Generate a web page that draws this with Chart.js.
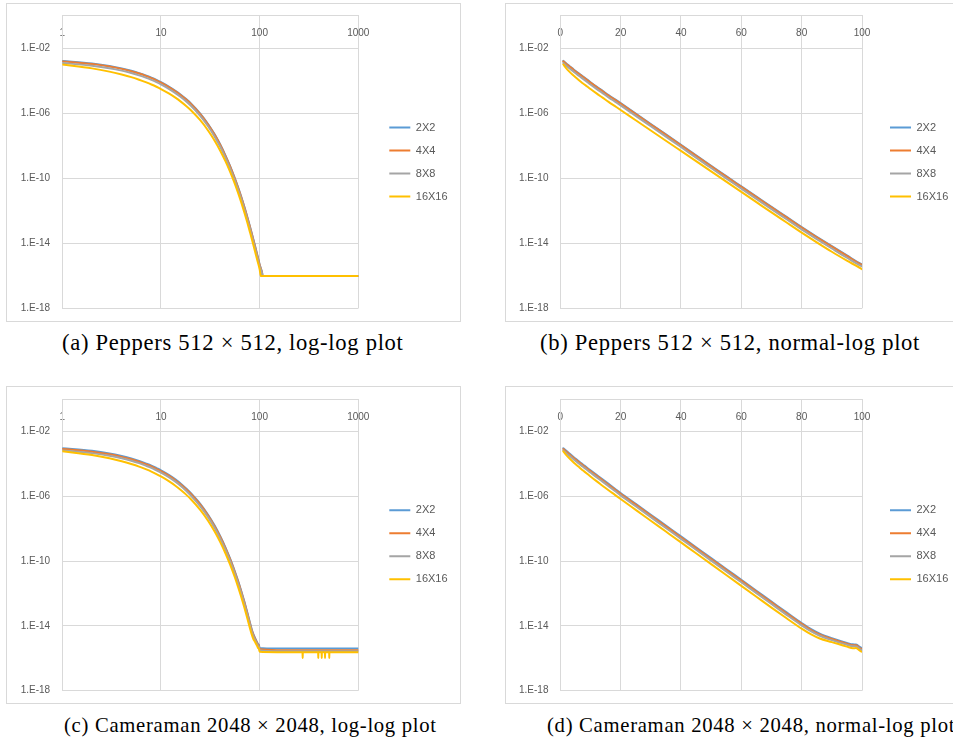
<!DOCTYPE html>
<html><head><meta charset="utf-8">
<script src="https://cdn.jsdelivr.net/npm/chart.js@4.4.1/dist/chart.umd.min.js"></script>
<style>
html,body{margin:0;padding:0;background:#fff;width:953px;height:740px;overflow:hidden;position:relative}
.box{position:absolute;border:1px solid #d9d9d9;box-sizing:border-box}
canvas{position:absolute}
.cap{position:absolute;font-family:'Liberation Serif',serif;font-size:22.6px;letter-spacing:0.7px;white-space:nowrap;color:#000;line-height:1}
.cap.small{font-size:20.7px}
</style></head><body>
<div class="box" style="left:6px;top:3px;width:455px;height:319px"></div>
<div class="box" style="left:505px;top:3px;width:460px;height:319px"></div>
<div class="box" style="left:6px;top:386px;width:455px;height:318px"></div>
<div class="box" style="left:505px;top:386px;width:460px;height:318px"></div>
<canvas id="ca" width="454" height="319" style="left:6px;top:3px"></canvas>
<canvas id="cb" width="456" height="319" style="left:505px;top:3px"></canvas>
<canvas id="cc" width="454" height="317" style="left:6px;top:386px"></canvas>
<canvas id="cd" width="456" height="317" style="left:505px;top:386px"></canvas>
<div class="cap" style="left:62px;top:332px">(a) Peppers 512 × 512, log-log plot</div>
<div class="cap" style="left:540px;top:332px">(b) Peppers 512 × 512, normal-log plot</div>
<div class="cap small" style="left:64px;top:715px">(c) Cameraman 2048 × 2048, log-log plot</div>
<div class="cap small" style="left:547px;top:715px">(d) Cameraman 2048 × 2048, normal-log plot</div>
<script>
// ---- data (log10 of the error) ----
const seriesLabels = ['2X2', '4X4', '8X8', '16X16'];
const seriesColors = ['#5B9BD5', '#ED7D31', '#A5A5A5', '#FFC000'];

const yTickValues = [1e-18, 1e-14, 1e-10, 1e-6, 1e-2];
const yTickLabels = ['1.E-18', '1.E-14', '1.E-10', '1.E-06', '1.E-02'];
const xLogTicks = [1, 10, 100, 1000];
const xLogTickLabels = ['1', '10', '100', '1000'];
const xLinTicks = [0, 20, 40, 60, 80, 100];
const xLinTickLabels = ['0', '20', '40', '60', '80', '100'];

const pepIter = [1,2,3,4,5,6,7,8,9,10,12,14,16,18,20,25,30,35,40,45,50,55,60,65,70,75,80,85,90,95,100,103,106,107,1000];
const pep2x2 = [-2.78,-2.94,-3.09,-3.24,-3.39,-3.53,-3.67,-3.81,-3.95,-4.09,-4.36,-4.62,-4.88,-5.13,-5.38,-6.02,-6.66,-7.30,-7.94,-8.59,-9.23,-9.87,-10.50,-11.13,-11.76,-12.38,-13.00,-13.60,-14.18,-14.75,-15.30,-15.55,-15.82,-16.02,-16.02];
const pep4x4 = [-2.81,-2.97,-3.12,-3.27,-3.42,-3.56,-3.70,-3.84,-3.98,-4.12,-4.39,-4.65,-4.91,-5.16,-5.41,-6.05,-6.69,-7.33,-7.97,-8.62,-9.26,-9.90,-10.53,-11.16,-11.79,-12.41,-13.03,-13.63,-14.21,-14.78,-15.33,-15.58,-15.84,-16.02,-16.02];
const pep8x8 = [-2.91,-3.08,-3.23,-3.38,-3.53,-3.67,-3.81,-3.95,-4.09,-4.23,-4.50,-4.76,-5.02,-5.27,-5.52,-6.16,-6.80,-7.44,-8.08,-8.73,-9.37,-10.01,-10.64,-11.27,-11.90,-12.52,-13.14,-13.74,-14.32,-14.89,-15.42,-15.64,-15.88,-16.02,-16.02];
const pep16x16 = [-3.00,-3.24,-3.44,-3.62,-3.78,-3.94,-4.09,-4.23,-4.37,-4.51,-4.78,-5.04,-5.30,-5.55,-5.80,-6.43,-7.06,-7.69,-8.32,-8.95,-9.58,-10.21,-10.84,-11.47,-12.10,-12.72,-13.34,-13.94,-14.52,-15.07,-15.60,-16.02,-16.02,-16.02,-16.02];

const camIter = [1,2,3,4,5,6,7,8,9,10,12,14,16,18,20,25,30,35,40,45,50,55,60,65,70,75,80,83,86,90,95,97,98,100,150,272,273,274,392,393,394,425,426,427,459,460,461,507,508,509,1000];
const cam2x2 = [-3.04,-3.20,-3.36,-3.52,-3.67,-3.82,-3.97,-4.11,-4.26,-4.40,-4.68,-4.96,-5.24,-5.52,-5.80,-6.47,-7.14,-7.81,-8.48,-9.15,-9.82,-10.49,-11.16,-11.83,-12.50,-13.17,-13.83,-14.19,-14.48,-14.76,-15.05,-15.14,-15.15,-15.36,
  -15.40,-15.40,-15.40,-15.40,-15.40,-15.40,-15.40,-15.40,-15.40,-15.40,-15.40,-15.40,-15.40,-15.40,-15.40,-15.40,-15.40];
const cam4x4 = [-3.09,-3.25,-3.41,-3.57,-3.72,-3.87,-4.02,-4.16,-4.31,-4.45,-4.73,-5.01,-5.29,-5.57,-5.85,-6.52,-7.19,-7.86,-8.53,-9.20,-9.87,-10.54,-11.21,-11.88,-12.55,-13.22,-13.88,-14.24,-14.53,-14.81,-15.10,-15.19,-15.20,-15.43,
  -15.50,-15.50,-15.50,-15.50,-15.50,-15.50,-15.50,-15.50,-15.50,-15.50,-15.50,-15.50,-15.50,-15.50,-15.50,-15.50,-15.50];
const cam8x8 = [-3.17,-3.34,-3.50,-3.66,-3.81,-3.96,-4.11,-4.25,-4.40,-4.54,-4.82,-5.10,-5.38,-5.66,-5.95,-6.62,-7.29,-7.96,-8.63,-9.30,-9.97,-10.64,-11.31,-11.98,-12.65,-13.32,-13.97,-14.33,-14.61,-14.88,-15.17,-15.26,-15.27,-15.50,
  -15.56,-15.56,-15.56,-15.56,-15.56,-15.56,-15.56,-15.56,-15.56,-15.56,-15.56,-15.56,-15.56,-15.56,-15.56,-15.56,-15.56];
const cam16x16 = [-3.23,-3.46,-3.66,-3.84,-4.01,-4.17,-4.33,-4.48,-4.63,-4.78,-5.07,-5.35,-5.63,-5.90,-6.17,-6.84,-7.51,-8.18,-8.85,-9.52,-10.19,-10.86,-11.53,-12.20,-12.87,-13.53,-14.17,-14.51,-14.78,-15.00,-15.28,-15.38,-15.37,-15.60,
  -15.62,-15.62,-15.98,-15.62,-15.62,-15.98,-15.62,-15.62,-15.98,-15.62,-15.62,-15.98,-15.62,-15.62,-15.98,-15.62,-15.62];

// ---- chart building ----
Chart.defaults.font.family = "'Liberation Sans', Arial, sans-serif";
const GRID = '#d9d9d9', TXT = '#595959';

function pts(iters, logs) { return iters.map((x, i) => ({ x: x, y: Math.pow(10, logs[i]) })); }

function build(id, iters, series, xType, g) {
  const xScale = xType === 'log' ? {
    type: 'logarithmic', min: 1, max: 1000,
    afterBuildTicks: s => { s.ticks = xLogTicks.map(v => ({ value: v })); },
    ticks: { callback: (v, i) => xLogTickLabels[i] }
  } : {
    type: 'linear', min: 0, max: 100,
    afterBuildTicks: s => { s.ticks = xLinTicks.map(v => ({ value: v })); },
    ticks: { callback: (v, i) => xLinTickLabels[i] }
  };
  Object.assign(xScale, {
    position: 'top',
    afterFit: s => { s.height = 0; },
    grid: { color: GRID, lineWidth: 1, drawTicks: false },
    border: { color: GRID }
  });
  Object.assign(xScale.ticks, { mirror: true, padding: 12, color: TXT, font: { size: 10 }, maxRotation: 0, autoSkip: false });

  new Chart(document.getElementById(id), {
    type: 'line',
    data: {
      datasets: series.map((s, k) => ({
        label: seriesLabels[k], data: pts(iters, s), order: series.length - k,
        borderColor: seriesColors[k], backgroundColor: seriesColors[k],
        borderWidth: 2, pointRadius: 0, cubicInterpolationMode: 'monotone',
        borderJoinStyle: 'round', borderCapStyle: 'round', xAxisID: 'x', yAxisID: 'y'
      }))
    },
    options: {
      responsive: false, animation: false, devicePixelRatio: 1,
      layout: { padding: { left: g.left, top: g.top, bottom: g.bottom, right: g.right } },
      plugins: {
        legend: {
          position: 'right', maxWidth: 76,
          labels: { usePointStyle: true, pointStyle: 'line', pointStyleWidth: 21, padding: 12, color: TXT, font: { size: 11 },
            sort: (a, b) => a.datasetIndex - b.datasetIndex }
        },
        tooltip: { enabled: false }
      },
      scales: {
        x: xScale,
        y: {
          type: 'logarithmic', position: 'left', min: 1e-18, max: 1,
          afterBuildTicks: s => { s.ticks = yTickValues.map(v => ({ value: v })); },
          afterFit: s => { s.width = g.yw; },
          grid: { color: GRID, lineWidth: 1, drawTicks: false },
          border: { color: GRID },
          ticks: { padding: 4, crossAlign: 'far', color: TXT, font: { size: 10 }, autoSkip: false, callback: (v, i) => yTickLabels[i] }
        },
        gap: {
          type: 'linear', position: 'right', display: true,
          grid: { display: false, drawTicks: false }, border: { display: false }, ticks: { display: false },
          afterFit: s => { s.width = g.gap; }
        }
      }
    }
  });
}

build('ca', pepIter, [pep2x2, pep4x4, pep8x8, pep16x16], 'log', { left: 14.7, yw: 41.6, top: 12.7, bottom: 13.7, right: 6.7, gap: 19 });
build('cb', pepIter, [pep2x2, pep4x4, pep8x8, pep16x16], 'lin', { left: 14, yw: 41.3, top: 12.7, bottom: 13.7, right: 7, gap: 16 });
build('cc', camIter, [cam2x2, cam4x4, cam8x8, cam16x16], 'log', { left: 14.7, yw: 41.6, top: 13, bottom: 12.3, right: 6.7, gap: 19 });
build('cd', camIter, [cam2x2, cam4x4, cam8x8, cam16x16], 'lin', { left: 14, yw: 41.3, top: 13, bottom: 12.3, right: 7, gap: 16 });
</script>
</body></html>
